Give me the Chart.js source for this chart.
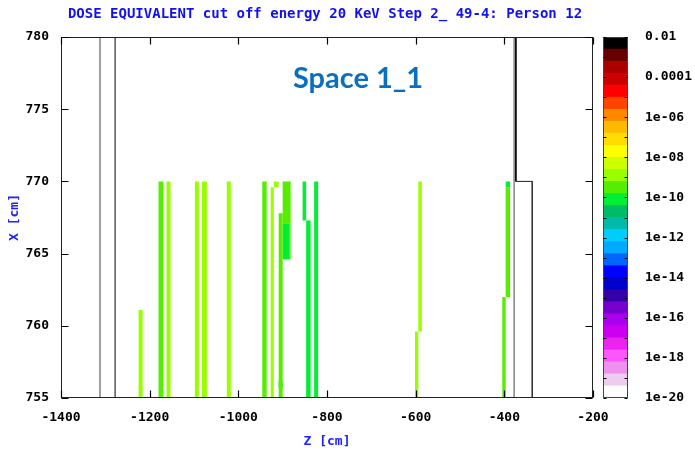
<!DOCTYPE html>
<html>
<head>
<meta charset="utf-8">
<script src="https://cdn.jsdelivr.net/npm/chart.js@4/dist/chart.umd.min.js"></script>
<style>
  html, body { margin: 0; padding: 0; background: #fff; }
  #wrap { position: relative; width: 695px; height: 452px; overflow: hidden; }
  #main { position: absolute; left: 0; top: 0; }
  #cbar { position: absolute; left: 598px; top: 0; }
  #title {
    position: absolute; left: 25px; top: 5px; width: 600px; text-align: center;
    font: bold 14px/16px "DejaVu Sans Mono", monospace; color: #1010f0; white-space: pre;
  }
  #space {
    position: absolute; left: 258px; top: 62px; width: 200px; text-align: center;
    font: bold 29px/29px Lato, sans-serif; color: #0a6fc0;
  }
</style>
</head>
<body>
<div id="wrap">
  <canvas id="main" width="695" height="452"></canvas>
  <canvas id="cbar" width="97" height="452"></canvas>
  <div id="title">DOSE EQUIVALENT cut off energy 20 KeV Step 2_ 49-4: Person 12</div>
  <div id="space">Space 1_1</div>
</div>
<script>
// axis ticks
const zTicks = [-1400, -1200, -1000, -800, -600, -400, -200];
const xTicks = [755, 760, 765, 770, 775, 780];

// colour bar: log10 levels and band colours (bottom -> top)
const cbLevels = [-20, -19.4, -18.8, -18.2, -17.6, -17, -16.4, -15.8, -15.2, -14.6,
  -14, -13.4, -12.8, -12.2, -11.6, -11, -10.4, -9.8, -9.2, -8.6,
  -8, -7.4, -6.8, -6.2, -5.6, -5, -4.4, -3.8, -3.2, -2.6, -2];
const cbColors = ['#ffffff', '#eeccee', '#ee90ee', '#ff55ff', '#ee22ee', '#cc00ee', '#aa00ee', '#7700cc', '#3300aa', '#0000cc',
  '#0000ff', '#0066ff', '#00aaff', '#00ccff', '#00bbaa', '#00bb66', '#00ee33', '#55ee00', '#99ff00', '#ccff00',
  '#ffff00', '#ffdd00', '#ffbb00', '#ff8800', '#ff4400', '#ff0000', '#cc0000', '#aa0000', '#660000', '#000000'];
const cbTickValues = [-20, -19, -18, -17, -16, -15, -14, -13, -12, -11, -10, -9, -8, -7, -6, -5, -4, -3, -2];
const cbTickLabels = {'-20': '1e-20', '-18': '1e-18', '-16': '1e-16', '-14': '1e-14', '-12': '1e-12',
  '-10': '1e-10', '-8': '1e-08', '-6': '1e-06', '-4': '0.0001', '-2': '0.01'};

// dose cells: Z range, X range, dose
const cellZ0 = [-1225, -1180, -1162, -1098, -1082, -1026, -946, -927, -920, -909, -900, -900, -884, -909, -855, -847, -829, -594, -601.5, -397, -397, -404.6];
const cellZ1 = [-1216, -1169, -1153, -1089, -1071, -1017, -936, -920, -909, -900, -882, -884, -882, -900, -847, -837, -820, -586, -594, -387, -387, -397];
const cellX0 = [755, 755, 755, 755, 755, 755, 755, 755, 769.6, 755, 767.1, 764.6, 764.6, 755.7, 767.3, 755, 755, 759.6, 755, 762, 769.6, 755];
const cellX1 = [761.1, 770, 770, 770, 770, 770, 770, 769.6, 770, 767.8, 770, 767.1, 767.1, 756.2, 770, 767.3, 770, 770, 759.6, 769.6, 770, 762];
const cellDose = [1.5e-9, 4e-10, 1.5e-9, 1.5e-9, 1.5e-9, 1.5e-9, 4e-10, 1.5e-9, 1.5e-9, 4e-10, 4e-10, 1e-10, 4e-10, 1e-10, 1e-10, 1e-10, 1e-10, 1.5e-9, 1.5e-9, 4e-10, 1e-10, 4e-10];

// geometry outline segments
const geoZ0 = [-1312, -1278, -378, -374, -374, -337];
const geoX0 = [755, 755, 755, 780, 770, 770];
const geoZ1 = [-1312, -1278, -378, -374, -337, -337];
const geoX1 = [780, 780, 780, 770, 770, 755];
const geoColor = ['#444444', '#000000', '#444444', '#000000', '#222222', '#333333'];

const monoBold = { family: 'DejaVu Sans Mono', size: 13, weight: 'bold' };

function doseColor(d) {
  const lg = Math.log10(d);
  for (let i = 0; i < cbColors.length; i++) {
    if (lg >= cbLevels[i] && lg < cbLevels[i + 1]) return cbColors[i];
  }
  return lg < cbLevels[0] ? cbColors[0] : cbColors[cbColors.length - 1];
}

// frame + inward tick marks, drawn from the chart's own scales
function frameTicks(xVals, yVals, xLen, yLen, color) {
  return {
    id: 'frameTicks',
    afterDraw(chart) {
      const { ctx, chartArea: a } = chart;
      const L = Math.round(a.left) + 0.5, R = Math.round(a.right) - 0.5;
      const T = Math.round(a.top) + 0.5, B = Math.round(a.bottom) - 0.5;
      ctx.save();
      ctx.strokeStyle = color;
      ctx.lineWidth = 1;
      ctx.strokeRect(L, T, R - L, B - T);
      ctx.beginPath();
      const xs = chart.scales.x, ys = chart.scales.y;
      xVals.forEach(v => {
        const p = Math.round(xs.getPixelForValue(v)) + 0.5;
        ctx.moveTo(p, B); ctx.lineTo(p, B - xLen);
        ctx.moveTo(p, T); ctx.lineTo(p, T + xLen);
      });
      yVals.forEach(v => {
        const p = Math.round(ys.getPixelForValue(v)) + 0.5;
        ctx.moveTo(L, p); ctx.lineTo(L + yLen, p);
        ctx.moveTo(R, p); ctx.lineTo(R - yLen, p);
      });
      ctx.lineWidth = 1.2;
      ctx.strokeStyle = '#000';
      ctx.stroke();
      ctx.restore();
    }
  };
}

const datasets = [];
cellDose.forEach((d, i) => {
  datasets.push({
    data: [
      { x: cellZ0[i], y: cellX0[i] }, { x: cellZ1[i], y: cellX0[i] },
      { x: cellZ1[i], y: cellX1[i] }, { x: cellZ0[i], y: cellX1[i] },
      { x: cellZ0[i], y: cellX0[i] }
    ],
    showLine: true,
    fill: 'shape',
    backgroundColor: doseColor(d),
    borderColor: 'rgba(0,0,0,0)',
    borderWidth: 0,
    pointRadius: 0,
    tension: 0
  });
});
geoZ0.forEach((z, i) => {
  datasets.push({
    data: [{ x: z, y: geoX0[i] }, { x: geoZ1[i], y: geoX1[i] }],
    showLine: true,
    fill: false,
    borderColor: geoColor[i],
    borderWidth: 1,
    pointRadius: 0
  });
});

new Chart(document.getElementById('main'), {
  type: 'scatter',
  data: { datasets },
  options: {
    responsive: false,
    animation: false,
    devicePixelRatio: 1,
    layout: { padding: { top: 37, right: 102, left: 0, bottom: 0 } },
    plugins: { legend: { display: false }, tooltip: { enabled: false } },
    scales: {
      x: {
        type: 'linear', min: -1400, max: -200,
        afterBuildTicks: s => { s.ticks = zTicks.map(v => ({ value: v })); },
        afterFit: s => { s.height = 54; },
        grid: { display: false, drawTicks: false },
        border: { display: false },
        ticks: { color: '#000', font: monoBold, padding: 12, maxRotation: 0, callback: v => String(v) },
        title: { display: true, text: 'Z [cm]', color: '#2020ff', font: monoBold, padding: { top: 0, bottom: 3 } }
      },
      y: {
        type: 'linear', min: 755, max: 780,
        afterBuildTicks: s => { s.ticks = xTicks.map(v => ({ value: v })); },
        afterFit: s => { s.width = 61; },
        grid: { display: false, drawTicks: false },
        border: { display: false },
        ticks: { color: '#000', font: monoBold, padding: 12, callback: v => String(v) },
        title: { display: true, text: 'X [cm]', color: '#2020ff', font: monoBold, padding: { top: 7, bottom: 0 } }
      }
    }
  },
  plugins: [frameTicks(zTicks, xTicks, 7, 7, '#222')]
});

// colour bar
new Chart(document.getElementById('cbar'), {
  type: 'bar',
  data: {
    labels: [''],
    datasets: cbColors.map((c, i) => ({
      data: [[cbLevels[i], cbLevels[i + 1]]],
      backgroundColor: c,
      borderWidth: 0,
      grouped: false,
      barPercentage: 1,
      categoryPercentage: 1
    }))
  },
  options: {
    responsive: false,
    animation: false,
    devicePixelRatio: 1,
    layout: { padding: { top: 37, right: 0, left: 5, bottom: 54 } },
    plugins: { legend: { display: false }, tooltip: { enabled: false } },
    scales: {
      x: { display: false },
      y: {
        position: 'right', min: -20, max: -2,
        afterBuildTicks: s => { s.ticks = cbTickValues.map(v => ({ value: v })); },
        afterFit: s => { s.width = 67; },
        grid: { display: false, drawTicks: false },
        border: { display: false },
        ticks: { color: '#000', font: monoBold, padding: 17, autoSkip: false,
          callback: v => cbTickLabels[String(v)] || '' }
      }
    }
  },
  plugins: [frameTicks([], cbTickValues, 0, 3, '#444')]
});
</script>
</body>
</html>
